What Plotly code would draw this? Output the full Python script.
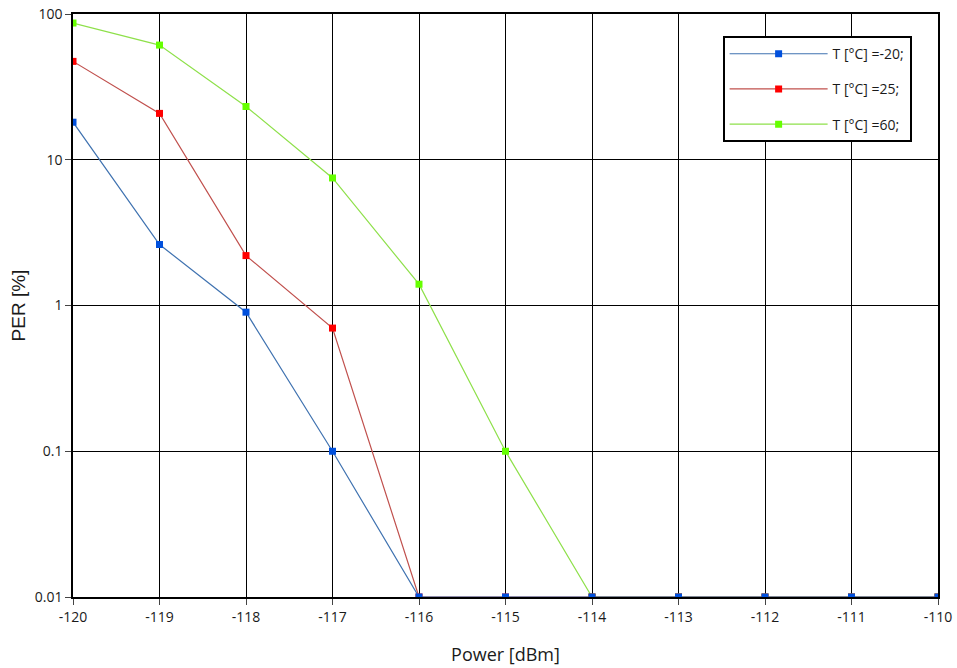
import plotly.graph_objects as go

power = [-120, -119, -118, -117, -116, -115, -114, -113, -112, -111, -110]
per_m20 = [18.1, 2.62, 0.90, 0.10, 0.01, 0.01, 0.01, 0.01, 0.01, 0.01, 0.01]
per_25 = [47.3, 20.8, 2.2, 0.70, 0.01, 0.01, 0.01, 0.01, 0.01, 0.01, 0.01]
per_60 = [86.7, 61.2, 23.2, 7.5, 1.4, 0.10, 0.01, 0.01, 0.01, 0.01, 0.01]
names = ["T [°C] =-20;", "T [°C] =25;", "T [°C] =60;"]
y_ticks = [100, 10, 1, 0.1, 0.01]
y_ticktext = ["100", "10", "1", "0.1", "0.01"]
x_ticks = [-120, -119, -118, -117, -116, -115, -114, -113, -112, -111, -110]

fig = go.Figure()
series = [
    (per_60, names[2], "#8ee04a", "#66ff00", "g3"),
    (per_25, names[1], "#c0504d", "#ff0000", "g2"),
    (per_m20, names[0], "#3f72b0", "#0050dd", "g1"),
]
for vals, nm, lc, mc, grp in series:
    fig.add_trace(go.Scatter(
        x=power, y=vals, name=nm, mode="lines+markers",
        line=dict(color=lc, width=1.2),
        marker=dict(symbol="square", size=7, color=mc),
        legendgroup=grp, legendrank={"g1": 1, "g2": 2, "g3": 3}[grp],
    ))

font_family = "Open Sans, Noto Sans, DejaVu Sans, sans-serif"
fig.update_layout(
    width=957, height=668,
    margin=dict(l=73, r=19, t=14, b=71),
    paper_bgcolor="white", plot_bgcolor="white",
    font=dict(family=font_family, size=14, color="#1a1a1a"),
    showlegend=True,
    legend=dict(
        x=0.751, y=0.962, xanchor="left", yanchor="top",
        bgcolor="white", bordercolor="black", borderwidth=2,
        font=dict(size=14, color="#1a1a1a"),
        traceorder="grouped", tracegroupgap=14,
        itemwidth=98,
    ),
    xaxis=dict(
        range=[-120, -110], tickvals=x_ticks,
        ticktext=[str(v) for v in x_ticks],
        showgrid=True, gridcolor="black", gridwidth=1.3,
        showline=True, linecolor="black", linewidth=1.5, mirror=True,
        ticks="outside", ticklen=6, tickcolor="#444",
        ticklabeloverflow="allow",
        title=dict(text="Power [dBm]", font=dict(size=18, color="#1a1a1a"), standoff=24),
        zeroline=False, automargin=False,
    ),
    yaxis=dict(
        type="log", range=[-2, 2], tickvals=y_ticks, ticktext=y_ticktext,
        showgrid=True, gridcolor="black", gridwidth=1.3,
        showline=True, linecolor="black", linewidth=1.5, mirror=True,
        ticks="outside", ticklen=6, tickcolor="#444",
        ticklabeloverflow="allow",
        title=dict(text="PER [%]", font=dict(size=19, color="#1a1a1a",
                   family="Liberation Sans, Arial, sans-serif"), standoff=4),
        zeroline=False, automargin=False,
    ),
)

# remove the default 8px page margin so the figure fills the window exactly
fig.write_html(
    "out.html",
    config={"displayModeBar": False},
    post_script="document.body.style.margin='0';document.body.style.overflow='hidden';",
)
